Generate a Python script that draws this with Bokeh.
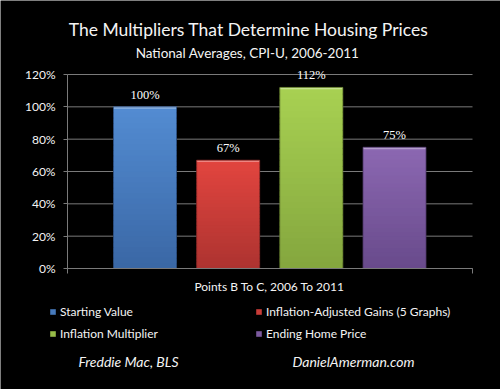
from bokeh.plotting import figure
from bokeh.models import (ColumnDataSource, Range1d, Label, LabelSet, Legend, LegendItem,
                          FixedTicker, CustomJSTickFormatter)
from bokeh.embed import file_html
from bokeh.resources import INLINE

# ---- data ----
categories = ["Starting Value", "Inflation-Adjusted Gains (5 Graphs)",
              "Inflation Multiplier", "Ending Home Price"]
values = [100, 67, 112, 75]
value_labels = ["100%", "67%", "112%", "75%"]
y_ticks = [0, 20, 40, 60, 80, 100, 120]
title_text = "The Multipliers That Determine Housing Prices"
subtitle_text = "National Averages, CPI-U, 2006-2011"
xlabel_text = "Points B To C, 2006 To 2011"
source_left = "Freddie Mac, BLS"
source_right = "DanielAmerman.com"

# ---- styles ----
top_colors = ["#538cd2", "#e2453f", "#a8d152", "#8c68b2"]
bottom_colors = ["#3a67a5", "#ad3330", "#84a63e", "#684a8b"]
FONT = "Lato"
TXT = "#f4f4f4"
GRID = "#7a7a7a"
W, H = 500, 389

# pixel geometry of the chart area
PX_CAT = 83.17          # px per category step
PX_X1 = 144.5           # pixel of first category centre
PX_ZERO = 268.0         # pixel row of 0%
PX_PER_PCT = 194.0 / 120.0


def dx(px):
    return 1 + (px - PX_X1) / PX_CAT


def dy(py):
    return (PX_ZERO - py) / PX_PER_PCT


positions = [i + 1 for i in range(len(values))]
ax_x0, ax_x1 = dx(67), dx(472)
bar_w = 63 / PX_CAT

p = figure(width=W, height=H, output_backend="svg", toolbar_location=None,
           x_range=Range1d(dx(0), dx(W)), y_range=Range1d(dy(H), dy(0)),
           background_fill_color="black", border_fill_color="black",
           min_border=0)
p.outline_line_color = None
p.xgrid.visible = False
p.ygrid.visible = False

# gridlines from tick values
p.segment(x0=[ax_x0] * len(y_ticks), x1=[ax_x1] * len(y_ticks), y0=y_ticks, y1=y_ticks,
          line_color=GRID, line_width=1)


def hex2rgb(h):
    h = h.lstrip("#")
    return [int(h[i:i + 2], 16) for i in (0, 2, 4)]


def lerp(c1, c2, t):
    a, b = hex2rgb(c1), hex2rgb(c2)
    return "#%02x%02x%02x" % tuple(int(round(a[k] + (b[k] - a[k]) * t)) for k in range(3))


N = 30
renderers = []
for i, (pos, v) in enumerate(zip(positions, values)):
    bottoms = [v * k / N for k in range(N)]
    tops = [min(v, v * (k + 1.8) / N) for k in range(N)]
    cols = [lerp(bottom_colors[i], top_colors[i], (k + 0.5) / N) for k in range(N)]
    src = ColumnDataSource(dict(x=[pos] * N, bottom=bottoms, top=tops, color=cols))
    r = p.vbar(x="x", bottom="bottom", top="top", width=bar_w, source=src,
               fill_color="color", line_color=None)
    renderers.append(r)
    p.vbar(x=[pos], bottom=[v - 1.2], top=[v], width=bar_w,
           fill_color=lerp(top_colors[i], "#ffffff", 0.35), line_color=None)
    p.vbar(x=[pos], bottom=[0], top=[v], width=bar_w, fill_color=None,
           line_color=lerp(bottom_colors[i], "#000000", 0.25), line_width=0.8)

# value labels
lab_src = ColumnDataSource(dict(x=positions, y=values, t=value_labels))
p.add_layout(LabelSet(x="x", y="y", text="t", source=lab_src, y_offset=12,
                      text_align="center", text_baseline="middle",
                      text_color="#ffffff", text_font=FONT, text_font_size="12.5px"))

# axes drawn at fixed locations inside the full-size frame
yax = p.yaxis[0]
yax.fixed_location = ax_x0
yax.bounds = (0, 120)
yax.ticker = FixedTicker(ticks=y_ticks)
yax.formatter = CustomJSTickFormatter(code="return tick.toFixed(0) + '%';")
yax.axis_line_color = GRID
yax.major_tick_line_color = GRID
yax.major_tick_out = 4
yax.major_tick_in = 0
yax.minor_tick_line_color = None
yax.major_label_text_color = TXT
yax.major_label_text_font = FONT
yax.major_label_text_font_size = "12px"
yax.major_label_standoff = 8

xax = p.xaxis[0]
xax.fixed_location = 0
xax.bounds = (ax_x0, ax_x1)
xax.ticker = FixedTicker(ticks=[ax_x0, ax_x1])
xax.major_label_overrides = {ax_x0: " ", ax_x1: " "}
xax.axis_line_color = GRID
xax.major_tick_line_color = GRID
xax.major_tick_out = 5
xax.major_tick_in = 0
xax.minor_tick_line_color = None


def lab(px, py, text, size, style="normal"):
    p.add_layout(Label(x=dx(px), y=dy(py), text=text, text_align="center",
                       text_baseline="middle", text_color=TXT, text_font=FONT,
                       text_font_size=size, text_font_style=style))


lab(248, 29, title_text, "17.5px")
lab(247, 52, subtitle_text, "13.5px")
lab(269, 286, xlabel_text, "12px")
lab(128, 361, source_left, "14px", "italic")
lab(353, 361, source_right, "14px", "italic")


def make_legend(items, vx):
    lg = Legend(items=items, location=(vx, 46), orientation="vertical",
                padding=0, margin=0, spacing=2, label_height=20, label_standoff=4,
                glyph_width=7, glyph_height=7,
                label_text_color=TXT, label_text_font=FONT, label_text_font_size="12px",
                background_fill_alpha=0, border_line_color=None)
    p.add_layout(lg)


make_legend([LegendItem(label=categories[0], renderers=[renderers[0]], index=N // 2),
             LegendItem(label=categories[2], renderers=[renderers[2]], index=N // 2)], 49)
make_legend([LegendItem(label=categories[1], renderers=[renderers[1]], index=N // 2),
             LegendItem(label=categories[3], renderers=[renderers[3]], index=N // 2)], 255)

open("out.html", "w").write(file_html(p, INLINE))
